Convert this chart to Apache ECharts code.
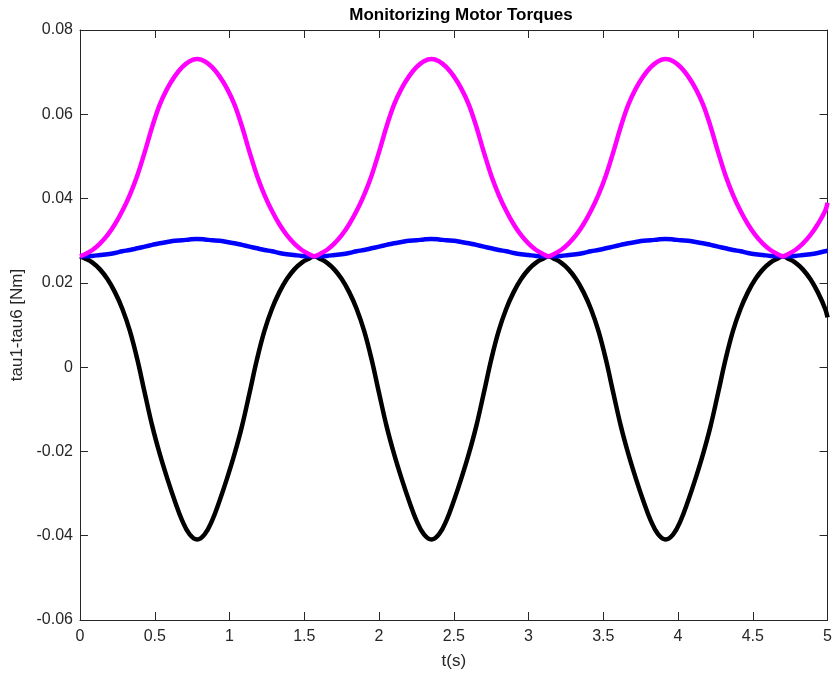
<!DOCTYPE html>
<html>
<head>
<meta charset="utf-8">
<script src="https://cdn.jsdelivr.net/npm/echarts@6/dist/echarts.min.js"></script>
<style>
html,body{margin:0;padding:0;background:#fff;}
#chart{width:835px;height:676px;}
</style>
</head>
<body>
<div id="chart"></div>
<script>
// time samples (s)
var t = [
0.0000,0.0335,0.0835,0.1335,0.1835,0.2335,0.2835,0.3335,0.3835,0.4335,0.4835,0.5335,0.5835,0.6335,0.6835,0.7335,0.7835,
0.8335,0.8835,0.9335,0.9835,1.0335,1.0835,1.1335,1.1835,1.2335,1.2835,1.3335,1.3835,1.4335,1.4835,1.5335,1.5670,
1.6005,1.6505,1.7005,1.7505,1.8005,1.8505,1.9005,1.9505,2.0005,2.0505,2.1005,2.1505,2.2005,2.2505,2.3005,2.3505,
2.4005,2.4505,2.5005,2.5505,2.6005,2.6505,2.7005,2.7505,2.8005,2.8505,2.9005,2.9505,3.0005,3.0505,3.1005,3.1340,
3.1675,3.2175,3.2675,3.3175,3.3675,3.4175,3.4675,3.5175,3.5675,3.6175,3.6675,3.7175,3.7675,3.8175,3.8675,3.9175,
3.9675,4.0175,4.0675,4.1175,4.1675,4.2175,4.2675,4.3175,4.3675,4.4175,4.4675,4.5175,4.5675,4.6175,4.6675,4.7010,
4.7345,4.7845,4.8345,4.8845,4.9345,4.9845,5.0000];

// black curve
var tauBlack = [
0.0263,0.0258,0.0248,0.0232,0.0209,0.0178,0.0138,0.0086,0.0018,-0.0062,-0.0140,-0.0206,-0.0264,-0.0317,-0.0364,-0.0397,-0.0409,
-0.0397,-0.0364,-0.0317,-0.0264,-0.0206,-0.0140,-0.0062,0.0018,0.0086,0.0138,0.0178,0.0209,0.0232,0.0248,0.0258,0.0263,
0.0258,0.0248,0.0232,0.0209,0.0178,0.0138,0.0086,0.0018,-0.0062,-0.0140,-0.0206,-0.0264,-0.0317,-0.0364,-0.0397,-0.0409,
-0.0397,-0.0364,-0.0317,-0.0264,-0.0206,-0.0140,-0.0062,0.0018,0.0086,0.0138,0.0178,0.0209,0.0232,0.0248,0.0258,0.0263,
0.0258,0.0248,0.0232,0.0209,0.0178,0.0138,0.0086,0.0018,-0.0062,-0.0140,-0.0206,-0.0264,-0.0317,-0.0364,-0.0397,-0.0409,
-0.0397,-0.0364,-0.0317,-0.0264,-0.0206,-0.0140,-0.0062,0.0018,0.0086,0.0138,0.0178,0.0209,0.0232,0.0248,0.0258,0.0263,
0.0258,0.0248,0.0232,0.0209,0.0178,0.0138,0.0118];

// blue curve
var tauBlue = [
0.0263,0.0263,0.0264,0.0266,0.0268,0.0271,0.0275,0.0278,0.0282,0.0286,0.0290,0.0294,0.0297,0.0300,0.0301,0.0303,0.0304,
0.0303,0.0301,0.0300,0.0297,0.0294,0.0290,0.0286,0.0282,0.0278,0.0275,0.0271,0.0268,0.0266,0.0264,0.0263,0.0263,
0.0263,0.0264,0.0266,0.0268,0.0271,0.0275,0.0278,0.0282,0.0286,0.0290,0.0294,0.0297,0.0300,0.0301,0.0303,0.0304,
0.0303,0.0301,0.0300,0.0297,0.0294,0.0290,0.0286,0.0282,0.0278,0.0275,0.0271,0.0268,0.0266,0.0264,0.0263,0.0263,
0.0263,0.0264,0.0266,0.0268,0.0271,0.0275,0.0278,0.0282,0.0286,0.0290,0.0294,0.0297,0.0300,0.0301,0.0303,0.0304,
0.0303,0.0301,0.0300,0.0297,0.0294,0.0290,0.0286,0.0282,0.0278,0.0275,0.0271,0.0268,0.0266,0.0264,0.0263,0.0263,
0.0263,0.0264,0.0266,0.0268,0.0271,0.0275,0.0276];

// magenta curve
var tauMagenta = [
0.0263,0.0268,0.0278,0.0293,0.0313,0.0339,0.0371,0.0409,0.0455,0.0511,0.0571,0.0623,0.0661,0.0690,0.0712,0.0726,0.0731,
0.0726,0.0712,0.0690,0.0661,0.0623,0.0571,0.0511,0.0455,0.0409,0.0371,0.0339,0.0313,0.0293,0.0278,0.0268,0.0263,
0.0268,0.0278,0.0293,0.0313,0.0339,0.0371,0.0409,0.0455,0.0511,0.0571,0.0623,0.0661,0.0690,0.0712,0.0726,0.0731,
0.0726,0.0712,0.0690,0.0661,0.0623,0.0571,0.0511,0.0455,0.0409,0.0371,0.0339,0.0313,0.0293,0.0278,0.0268,0.0263,
0.0268,0.0278,0.0293,0.0313,0.0339,0.0371,0.0409,0.0455,0.0511,0.0571,0.0623,0.0661,0.0690,0.0712,0.0726,0.0731,
0.0726,0.0712,0.0690,0.0661,0.0623,0.0571,0.0511,0.0455,0.0409,0.0371,0.0339,0.0313,0.0293,0.0278,0.0268,0.0263,
0.0268,0.0278,0.0293,0.0313,0.0339,0.0371,0.0390];

var titleText = 'Monitorizing Motor Torques';
var xName = 't(s)';
var yName = 'tau1-tau6 [Nm]';

function pairs(ys){ return t.map(function(x,i){ return [x, ys[i]]; }); }

var axisColor = '#262626';
var font = "'Liberation Sans', Arial, Helvetica, sans-serif";

var chart = echarts.init(document.getElementById('chart'), null, {renderer:'canvas'});
chart.setOption({
  animation:false,
  backgroundColor:'#ffffff',
  title:{
    text:titleText, left:456, top:2, textAlign:'center',
    textStyle:{fontFamily:font, fontSize:17, fontWeight:'bold', color:'#000'}
  },
  grid:{left:80, right:3, top:30, bottom:56, containLabel:false},
  xAxis:[{
    type:'value', min:0, max:5, interval:0.5, position:'bottom',
    axisLine:{show:true, onZero:false, lineStyle:{color:axisColor, width:1}},
    axisTick:{show:true, inside:true, length:8, lineStyle:{color:axisColor}},
    axisLabel:{color:axisColor, fontSize:16, fontFamily:font, margin:9},
    splitLine:{show:false},
    name:xName, nameLocation:'middle', nameGap:33,
    nameTextStyle:{color:axisColor, fontSize:17, fontFamily:font}
  },{
    type:'value', min:0, max:5, interval:0.5, position:'top',
    axisLine:{show:true, onZero:false, lineStyle:{color:axisColor, width:1}},
    axisTick:{show:true, inside:true, length:8, lineStyle:{color:axisColor}},
    axisLabel:{show:false}, splitLine:{show:false}
  }],
  yAxis:[{
    type:'value', min:-0.06, max:0.08, interval:0.02, position:'left',
    axisLine:{show:true, onZero:false, lineStyle:{color:axisColor, width:1}},
    axisTick:{show:true, inside:true, length:8, lineStyle:{color:axisColor}},
    axisLabel:{color:axisColor, fontSize:16, fontFamily:font, margin:7,
      formatter:function(v){ return Math.abs(v)<1e-9 ? '0' : v.toFixed(2); }},
    splitLine:{show:false},
    name:yName, nameLocation:'middle', nameGap:43, nameRotate:90,
    nameTextStyle:{color:axisColor, fontSize:17, fontFamily:font}
  },{
    type:'value', min:-0.06, max:0.08, interval:0.02, position:'right',
    axisLine:{show:true, onZero:false, lineStyle:{color:axisColor, width:1}},
    axisTick:{show:true, inside:true, length:8, lineStyle:{color:axisColor}},
    axisLabel:{show:false}, splitLine:{show:false}
  }],
  series:[
    {type:'line', name:'tau black', data:pairs(tauBlack), showSymbol:false, smooth:0.4,
     lineStyle:{color:'#000000', width:4.5}, itemStyle:{color:'#000000'}},
    {type:'line', name:'tau blue', data:pairs(tauBlue), showSymbol:false, smooth:0.4,
     lineStyle:{color:'#0000ff', width:4.5}, itemStyle:{color:'#0000ff'}},
    {type:'line', name:'tau magenta', data:pairs(tauMagenta), showSymbol:false, smooth:0.4,
     lineStyle:{color:'#ff00ff', width:4.5}, itemStyle:{color:'#ff00ff'}}
  ]
});
</script>
</body>
</html>
